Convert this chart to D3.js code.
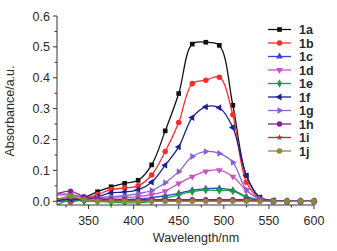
<!DOCTYPE html>
<html><head><meta charset="utf-8">
<script src="https://cdn.jsdelivr.net/npm/d3@7"></script>
<style>body{margin:0;background:#fff;}svg{display:block;}</style>
</head><body>
<svg id="c" width="337" height="251"></svg>
<script>
const wavelengths = [315,330,345,360,375,390,405,420,435,450,465,480,495,510,525,540,555,570,585,600];
const names = ["1a","1b","1c","1d","1e","1f","1g","1h","1i","1j"];
const colors = ["#111111","#ff2a2a","#3a46c8","#cc4fcc","#1f9a3f","#1c1f8c","#8a62d0","#8a1f8a","#9a3a3a","#8c8a32"];
const s1a = [0.000,0.005,0.012,0.031,0.047,0.058,0.068,0.118,0.228,0.349,0.509,0.515,0.505,0.311,0.083,0.013,0.002,0,0,0];
const s1b = [0.008,-0.002,0.008,0.022,0.038,0.043,0.050,0.085,0.161,0.255,0.381,0.392,0.402,0.280,0.062,0.010,0.002,0,0,0];
const s1c = [0.000,0.003,0.004,0.003,0.005,0.006,0.008,0.012,0.018,0.026,0.036,0.041,0.042,0.036,0.015,0.004,0,0,0,0];
const s1d = [0.020,0.020,0.012,0.008,0.010,0.012,0.015,0.022,0.033,0.058,0.080,0.097,0.101,0.080,0.035,0.007,0,0,0,0];
const s1e = [-0.012,0.005,0.000,0.000,-0.003,-0.005,-0.005,0.000,0.010,0.021,0.031,0.036,0.035,0.033,0.013,0.003,0,0,0,0];
const s1f = [0.002,0.008,0.005,0.015,0.027,0.030,0.037,0.062,0.117,0.176,0.271,0.306,0.303,0.239,0.083,0.012,0.002,0,0,0];
const s1g = [0.025,0.022,0.012,0.012,0.015,0.018,0.025,0.035,0.060,0.096,0.145,0.161,0.155,0.126,0.038,0.008,0,0,0,0];
const s1h = [0.025,0.033,0.015,0.008,0.005,0.005,0.005,0.005,0.005,0.005,0.005,0.005,0.005,0.005,0.005,0.002,0,0,0,0];
const s1i = [0.008,0.012,0.005,0.002,0.002,0.002,0.002,0.002,0.002,0.002,0.002,0.002,0.002,0.002,0.002,0.001,0,0,0,0];
const s1j = [0.005,0.016,0.005,0,0,0,0,0,0,0,0,0,0,0,0,0,0,0,0,0];
const series = [s1a,s1b,s1c,s1d,s1e,s1f,s1g,s1h,s1i,s1j];
const xTicks = [350,400,450,500,550,600];
const yTicks = [0.0,0.1,0.2,0.3,0.4,0.5,0.6];

const svg = d3.select("#c");
const font = "'Liberation Sans', Arial, sans-serif";
const m = {l:57, r:23, t:16, b:46};
const W = 337, H = 251;
const x = d3.scaleLinear().domain([315,600]).range([m.l, W-m.r]);
const y = d3.scaleLinear().domain([-0.012,0.6]).range([H-m.b, m.t]);

// symbols
const tri = d3.symbolTriangle;
const shapes = [
  {t:d3.symbolSquare, r:0, s:22},
  {t:d3.symbolCircle, r:0, s:24},
  {t:tri, r:0, s:20},
  {t:tri, r:180, s:20},
  {t:d3.symbolDiamond, r:0, s:20},
  {t:tri, r:-90, s:20},
  {t:tri, r:90, s:20},
  {t:d3.symbolCircle, r:0, s:22},
  {t:d3.symbolStar, r:0, s:14},
  {t:d3.symbolCircle, r:0, s:24}
];

svg.append("defs").append("clipPath").attr("id","pc").append("rect")
  .attr("x", m.l).attr("y", m.t-10).attr("width", W-m.r-m.l+6).attr("height", H-m.b-m.t+10);

const line = d3.line().x((d,i)=>x(wavelengths[i])).y(d=>y(d)).curve(d3.curveCatmullRom.alpha(0.5));
const g = svg.append("g").attr("clip-path","url(#pc)");
series.forEach((s,k)=>{
  g.append("path").datum(s).attr("d", line).attr("fill","none")
    .attr("stroke", colors[k]).attr("stroke-width", 1.3);
  g.selectAll(null).data(s.map((v,i)=>({w:wavelengths[i], v}))
      .filter(d=>d.w>315)).enter().append("path")
    .attr("d", d3.symbol().type(shapes[k].t).size(shapes[k].s))
    .attr("transform", d=>`translate(${x(d.w)},${y(d.v)}) rotate(${shapes[k].r})`)
    .attr("fill", colors[k]);
});

// axes
const xa = svg.append("g").attr("transform",`translate(0,${H-m.b})`);
xa.append("line").attr("x1",m.l).attr("x2",W-m.r).attr("stroke","#333").attr("stroke-width",1);
d3.range(325,601,25).forEach(v=>{
  const major = v%50===0;
  xa.append("line").attr("x1",x(v)).attr("x2",x(v)).attr("y1",0).attr("y2",major?4:2.5)
    .attr("stroke","#333").attr("stroke-width",1);
});
xa.selectAll("text.t").data(xTicks).enter().append("text")
  .attr("x",d=>x(d)).attr("y",20).attr("text-anchor","middle")
  .attr("font-family",font).attr("font-size",12.5).attr("fill","#2a2a2a").text(d=>d);

const ya = svg.append("g").attr("transform",`translate(${m.l},0)`);
ya.append("line").attr("y1",y(-0.012)).attr("y2",y(0.6)).attr("stroke","#333").attr("stroke-width",1);
d3.range(0,0.601,0.05).forEach(v=>{
  const major = Math.round(v*100)%10===0;
  ya.append("line").attr("x1",major?-4:-2.5).attr("x2",0).attr("y1",y(v)).attr("y2",y(v))
    .attr("stroke","#333").attr("stroke-width",1);
});
ya.selectAll("text.t").data(yTicks).enter().append("text")
  .attr("x",-7).attr("y",d=>y(d)+4.5).attr("text-anchor","end")
  .attr("font-family",font).attr("font-size",12.5).attr("fill","#2a2a2a").text(d=>d.toFixed(1));

svg.append("text").attr("x",196).attr("y",242).attr("text-anchor","middle")
  .attr("font-family",font).attr("font-size",12.5).attr("fill","#2a2a2a").text("Wavelength/nm");
svg.append("text").attr("transform","translate(14,111) rotate(-90)").attr("text-anchor","middle")
  .attr("font-family",font).attr("font-size",12.5).attr("fill","#2a2a2a").text("Absorbance/a.u.");

// legend
const lg = svg.append("g");
names.forEach((n,k)=>{
  const yy = 29.5 + k*13.5;
  lg.append("line").attr("x1",268).attr("x2",291).attr("y1",yy).attr("y2",yy)
    .attr("stroke",colors[k]).attr("stroke-width",1.3);
  lg.append("path").attr("d", d3.symbol().type(shapes[k].t).size(shapes[k].s))
    .attr("transform",`translate(279.5,${yy}) rotate(${shapes[k].r})`).attr("fill",colors[k]);
  lg.append("text").attr("x",299).attr("y",yy+4.5).attr("font-family",font)
    .attr("font-weight","bold").attr("font-size",12.5).attr("fill","#2a2a2a").text(n);
});
</script>
</body></html>
